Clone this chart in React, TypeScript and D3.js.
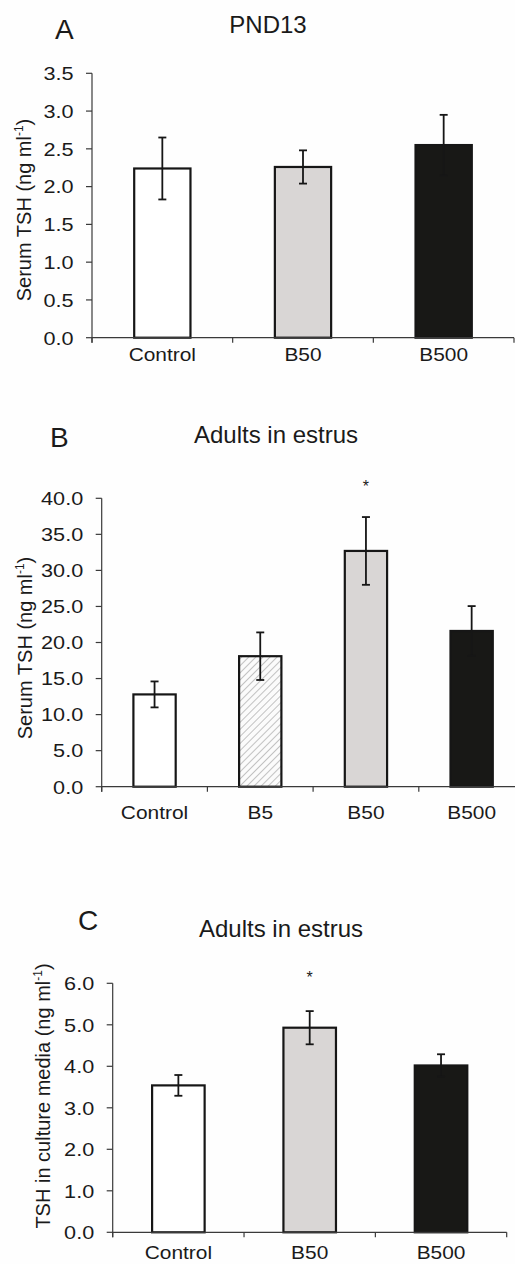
import React from "react";
import * as d3 from "d3";

// ---------- Data ----------
const panelACategories = ["Control", "B50", "B500"];
const panelAMeans = [2.24, 2.26, 2.55];
const panelAErrors = [0.41, 0.22, 0.4];
const panelATicks = [0, 0.5, 1.0, 1.5, 2.0, 2.5, 3.0, 3.5];
const panelAFills = ["white", "gray", "black"];

const panelBCategories = ["Control", "B5", "B50", "B500"];
const panelBMeans = [12.8, 18.1, 32.7, 21.6];
const panelBErrors = [1.8, 3.3, 4.7, 3.45];
const panelBTicks = [0, 5, 10, 15, 20, 25, 30, 35, 40];
const panelBFills = ["white", "hatch", "gray", "black"];
const panelBStars = ["", "", "*", ""];

const panelCCategories = ["Control", "B50", "B500"];
const panelCMeans = [3.54, 4.93, 4.02];
const panelCErrors = [0.25, 0.4, 0.27];
const panelCTicks = [0, 1, 2, 3, 4, 5, 6];
const panelCFills = ["white", "gray", "black"];
const panelCStars = ["", "*", ""];

const FONT = "'Liberation Sans', Arial, sans-serif";
const fillColor: Record<string, string> = {
  white: "#ffffff",
  gray: "#d9d6d5",
  black: "#181816",
  hatch: "url(#hatch)",
};

type PanelProps = {
  letter: string;
  letterX: number;
  letterY: number;
  title: string;
  titleX: number;
  titleY: number;
  yTitle: string;
  yTitleX: number;
  yTitleY: number;
  categories: string[];
  means: number[];
  errors: number[];
  ticks: number[];
  fills: string[];
  stars?: string[];
  starY?: number;
  x0: number;
  x1: number;
  yTop: number;
  yBottom: number;
  xLabelY: number;
};

function Panel(p: PanelProps) {
  const maxV = p.ticks[p.ticks.length - 1];
  const y = d3.scaleLinear().domain([0, maxV]).range([p.yBottom, p.yTop]);
  const x = d3
    .scaleBand<string>()
    .domain(p.categories)
    .range([p.x0, p.x1])
    .paddingInner(0.6)
    .paddingOuter(0.3);
  const step = x.step();
  const boundaries = d3.range(p.categories.length + 1).map((i) => p.x0 + i * step);
  const axisColor = "#3a3a3a";
  const fmt = d3.format(".1f");
  const cap = 4;
  return (
    <g>
      <text x={p.letterX} y={p.letterY} fontFamily={FONT} fontSize={28} fill="#1a1a1a">
        {p.letter}
      </text>
      <text x={p.titleX} y={p.titleY} fontFamily={FONT} fontSize={24} fill="#1a1a1a" textAnchor="middle">
        {p.title}
      </text>
      <text
        transform={`translate(${p.yTitleX},${p.yTitleY}) rotate(-90)`}
        fontFamily={FONT}
        fontSize={20}
        fill="#1a1a1a"
        textAnchor="middle"
      >
        {p.yTitle}
        <tspan fontSize={12} dy={-8}>-1</tspan>
        <tspan dy={8}>)</tspan>
      </text>
      {/* y axis */}
      <line x1={p.x0} x2={p.x0} y1={p.yTop} y2={p.yBottom + 5} stroke={axisColor} strokeWidth={1.2} />
      {p.ticks.map((t) => (
        <g key={t}>
          <line x1={p.x0 - 6} x2={p.x0} y1={y(t)} y2={y(t)} stroke={axisColor} strokeWidth={1.2} />
          <text
            transform={`translate(${p.x0 - 18.5},${y(t)}) scale(1.14,1)`}
            dy="0.36em"
            textAnchor="end"
            fontFamily={FONT}
            fontSize={19}
            fill="#1a1a1a"
          >
            {fmt(t)}
          </text>
        </g>
      ))}
      {/* bars */}
      {p.categories.map((c, i) => {
        const bx = x(c)!;
        const bw = x.bandwidth();
        const top = y(p.means[i]);
        const cx = bx + bw / 2;
        const eTop = y(p.means[i] + p.errors[i]);
        const eBot = y(p.means[i] - p.errors[i]);
        return (
          <g key={c}>
            <rect
              x={bx}
              y={top}
              width={bw}
              height={p.yBottom - top}
              fill={fillColor[p.fills[i]]}
              stroke="#161616"
              strokeWidth={2.2}
            />
            <line x1={cx} x2={cx} y1={eTop} y2={eBot} stroke="#161616" strokeWidth={1.8} />
            <line x1={cx - cap} x2={cx + cap} y1={eTop} y2={eTop} stroke="#161616" strokeWidth={1.8} />
            <line x1={cx - cap} x2={cx + cap} y1={eBot} y2={eBot} stroke="#161616" strokeWidth={1.8} />
            {p.stars && p.stars[i] ? (
              <text x={cx} y={p.starY} textAnchor="middle" fontFamily={FONT} fontSize={16} fill="#1a1a1a">
                {p.stars[i]}
              </text>
            ) : null}
            <text
              transform={`translate(${cx},${p.xLabelY}) scale(1.1,1)`}
              textAnchor="middle"
              fontFamily={FONT}
              fontSize={19}
              fill="#1a1a1a"
            >
              {c}
            </text>
          </g>
        );
      })}
      {/* x axis */}
      <line x1={p.x0} x2={p.x1} y1={p.yBottom} y2={p.yBottom} stroke={axisColor} strokeWidth={1.2} />
      {boundaries.map((b, i) => (
        <line key={i} x1={b} x2={b} y1={p.yBottom} y2={p.yBottom + 5} stroke={axisColor} strokeWidth={1.2} />
      ))}
    </g>
  );
}

export default function App() {
  return (
    <svg
      width={515}
      height={1264}
      style={{ position: "absolute", left: 0, top: 0, background: "#fefefe" }}
    >
      <defs>
        <pattern id="hatch" width={5} height={5} patternUnits="userSpaceOnUse" patternTransform="rotate(45)">
          <rect width={5} height={5} fill="#fbfbfb" />
          <line x1={0} y1={0} x2={0} y2={5} stroke="#c2c2c2" strokeWidth={2} />
        </pattern>
      </defs>
      <rect width={515} height={1264} fill="#fefefe" />
      <Panel
        letter="A"
        letterX={55}
        letterY={39}
        title="PND13"
        titleX={268}
        titleY={33}
        yTitle="Serum TSH (ng ml"
        yTitleX={31}
        yTitleY={210}
        categories={panelACategories}
        means={panelAMeans}
        errors={panelAErrors}
        ticks={panelATicks}
        fills={panelAFills}
        x0={92}
        x1={514}
        yTop={73.3}
        yBottom={337.7}
        xLabelY={360.5}
      />
      <Panel
        letter="B"
        letterX={50}
        letterY={447}
        title="Adults in estrus"
        titleX={276}
        titleY={443}
        yTitle="Serum TSH (ng ml"
        yTitleX={32}
        yTitleY={648}
        categories={panelBCategories}
        means={panelBMeans}
        errors={panelBErrors}
        ticks={panelBTicks}
        fills={panelBFills}
        stars={panelBStars}
        starY={492}
        x0={101.7}
        x1={524.5}
        yTop={498.3}
        yBottom={786.7}
        xLabelY={818.5}
      />
      <Panel
        letter="C"
        letterX={78}
        letterY={930}
        title="Adults in estrus"
        titleX={281}
        titleY={937}
        yTitle="TSH in culture media (ng ml"
        yTitleX={50}
        yTitleY={1096}
        categories={panelCCategories}
        means={panelCMeans}
        errors={panelCErrors}
        ticks={panelCTicks}
        fills={panelCFills}
        stars={panelCStars}
        starY={983}
        x0={112.7}
        x1={506.7}
        yTop={983.3}
        yBottom={1232.3}
        xLabelY={1258.5}
      />
    </svg>
  );
}
